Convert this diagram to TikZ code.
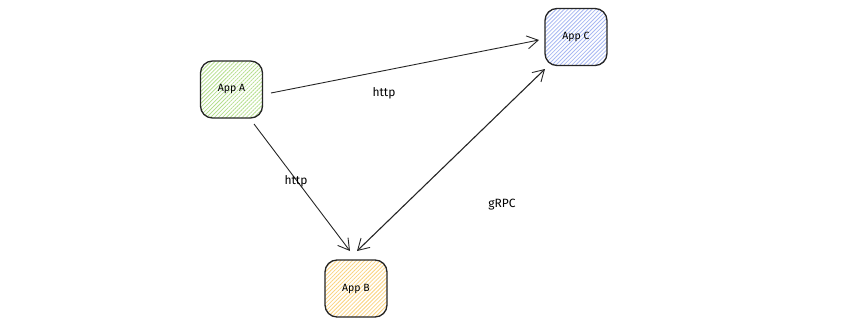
\documentclass[tikz,border=0pt]{standalone}
\usepackage{fontspec}
\setmainfont{Fira Sans}
\usetikzlibrary{arrows.meta,patterns.meta}
\definecolor{agreen}{HTML}{B4DE8C}
\definecolor{cblue}{HTML}{A8B8F2}
\definecolor{borange}{HTML}{FAD27E}
\tikzset{
  app/.style={draw=black!85, line width=1.3pt, rounded corners=12pt, minimum width=62pt, minimum height=57pt, font=\fontsize{10.5}{12}\selectfont, pattern={Lines[angle=45,distance=2.8pt,line width=0.8pt]}},
  conn/.style={line width=0.9pt, draw=black!85, -{Straight Barb[length=11pt,width=13pt,line width=0.9pt]}},
  biconn/.style={line width=1.1pt, draw=black!85, {Straight Barb[length=11pt,width=13pt,line width=0.9pt]}-{Straight Barb[length=11pt,width=13pt,line width=0.9pt]}},
  lbl/.style={font=\fontsize{12}{14}\selectfont}
}
\begin{document}
\begin{tikzpicture}[x=1pt,y=-1pt]
\useasboundingbox (0,0) rectangle (844,324);
\node[app, pattern color=agreen] (a) at (231.5,89.5) {App A};
\node[app, pattern color=cblue] (c) at (576,37) {App C};
\node[app, pattern color=borange] (b) at (356,288.5) {App B};
\coordinate (a1) at (271,93);
\coordinate (c1) at (539,40);
\coordinate (a2) at (254,124);
\coordinate (b1) at (350,251);
\coordinate (b2) at (357,251);
\coordinate (c2) at (545,69);
\draw[conn] (a1) -- (c1);
\draw[conn] (a2) -- (b1);
\draw[biconn] (b2) -- (c2);
\node[lbl] (l1) at (384,93) {http};
\node[lbl] (l2) at (296,181) {http};
\node[lbl] (l3) at (502,205) {gRPC};
\end{tikzpicture}
\end{document}
